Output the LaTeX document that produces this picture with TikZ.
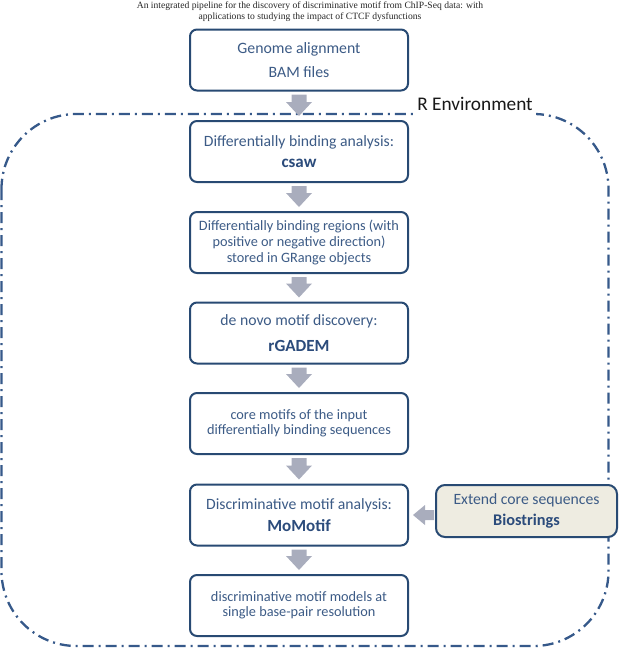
\documentclass[tikz,border=0pt]{standalone}
\usepackage{fontspec}
\setmainfont{Carlito}
\newfontfamily\titlefont{Liberation Serif}
\usetikzlibrary{calc}
\definecolor{boxline}{HTML}{284A73}
\definecolor{txt}{HTML}{3C5B86}
\definecolor{boldtxt}{HTML}{2B4B7B}
\definecolor{framecol}{HTML}{36598A}
\definecolor{arr}{HTML}{A9ADBD}
\definecolor{tanfill}{HTML}{EEECE1}
\newcommand{\dnarr}[2]{%
  \fill[arr] let \p1=(#1.south), \p2=(#2.north) in
  (\x1-7.5pt,\y1-3pt) -- (\x1+7.5pt,\y1-3pt) -- (\x1+7.5pt,\y2+18pt) -- (\x1+13pt,\y2+18pt)
  -- (\x1,\y2+4pt) -- (\x1-13pt,\y2+18pt) -- (\x1-7.5pt,\y2+18pt) -- cycle;}
\newcommand{\bt}[1]{{\fontsize{17}{17}\selectfont\textbf{\textcolor{boldtxt}{#1}}}}
\begin{document}
\begin{tikzpicture}[x=1pt,y=-1pt,
  stepbox/.style={draw=boxline, line width=2pt, rounded corners=7pt, fill=white,
    minimum width=218pt, minimum height=61pt, align=center, text=txt, inner sep=0pt},
  bigtxt/.style={font=\fontsize{15.7}{#1}\selectfont},
  smalltxt/.style={font=\fontsize{14.3}{#1}\selectfont}]
\useasboundingbox (0,0) rectangle (619,649);
% R environment frame
\draw[framecol, line width=2.3pt, dash pattern=on 11pt off 5pt on 2pt off 5pt,
  rounded corners=75pt] (1.5,114) rectangle (608.5,646);
% title
\node[font=\titlefont\fontsize{9.6}{11}\selectfont, text=black!85, align=center] (title)
  at (310,11.5) {An integrated pipeline for the discovery of discriminative motif from ChIP-Seq data: with\\applications to studying the impact of CTCF dysfunctions};
% boxes
\node[stepbox, font=\fontsize{15.8}{24}\selectfont] (b1) at (299,60) {Genome alignment\\BAM files};
\node[stepbox, bigtxt=21] (b2) at (299,151.5) {Differentially binding analysis:\\\bt{csaw}};
\node[stepbox, smalltxt=16] (b3) at (299,242.5) {Differentially binding regions (with\\positive or negative direction)\\stored in GRange objects};
\node[stepbox, bigtxt=26] (b4) at (299,333) {de novo motif discovery:\\\bt{rGADEM}};
\node[stepbox, smalltxt=15] (b5) at (299,423.5) {core motifs of the input\\differentially binding sequences};
\node[stepbox, bigtxt=22] (b6) at (299,515) {Discriminative motif analysis:\\\bt{MoMotif}};
\node[stepbox, smalltxt=15] (b7) at (299,605.5) {discriminative motif models at\\single base-pair resolution};
\node[draw=boxline, line width=2pt, rounded corners=9pt, fill=tanfill, minimum width=181pt,
  minimum height=52pt, align=center, text=txt, inner sep=0pt, bigtxt=21] (ext)
  at (526.5,511) {Extend core sequences\\{\fontsize{16.3}{16}\selectfont\textbf{\textcolor{boldtxt}{Biostrings}}}};
% arrows
\dnarr{b1}{b2}
\dnarr{b2}{b3}
\dnarr{b3}{b4}
\dnarr{b4}{b5}
\dnarr{b5}{b6}
\dnarr{b6}{b7}
\fill[arr] let \p1=(ext.west), \p2=(b6.east) in
  (\x1-1pt,\y2+5pt) -- (\x2+16pt,\y2+5pt) -- (\x2+16pt,\y2+10pt) -- (\x2+4pt,\y2)
  -- (\x2+16pt,\y2-10pt) -- (\x2+16pt,\y2-5pt) -- (\x1-1pt,\y2-5pt) -- cycle;
% frame label
\node[fill=white, inner xsep=3pt, inner ysep=1pt, text depth=5pt, anchor=base,
  font=\fontsize{19.3}{22}\selectfont, text=black!90] (renv) at (475,110) {R Environment};
\end{tikzpicture}
\end{document}
